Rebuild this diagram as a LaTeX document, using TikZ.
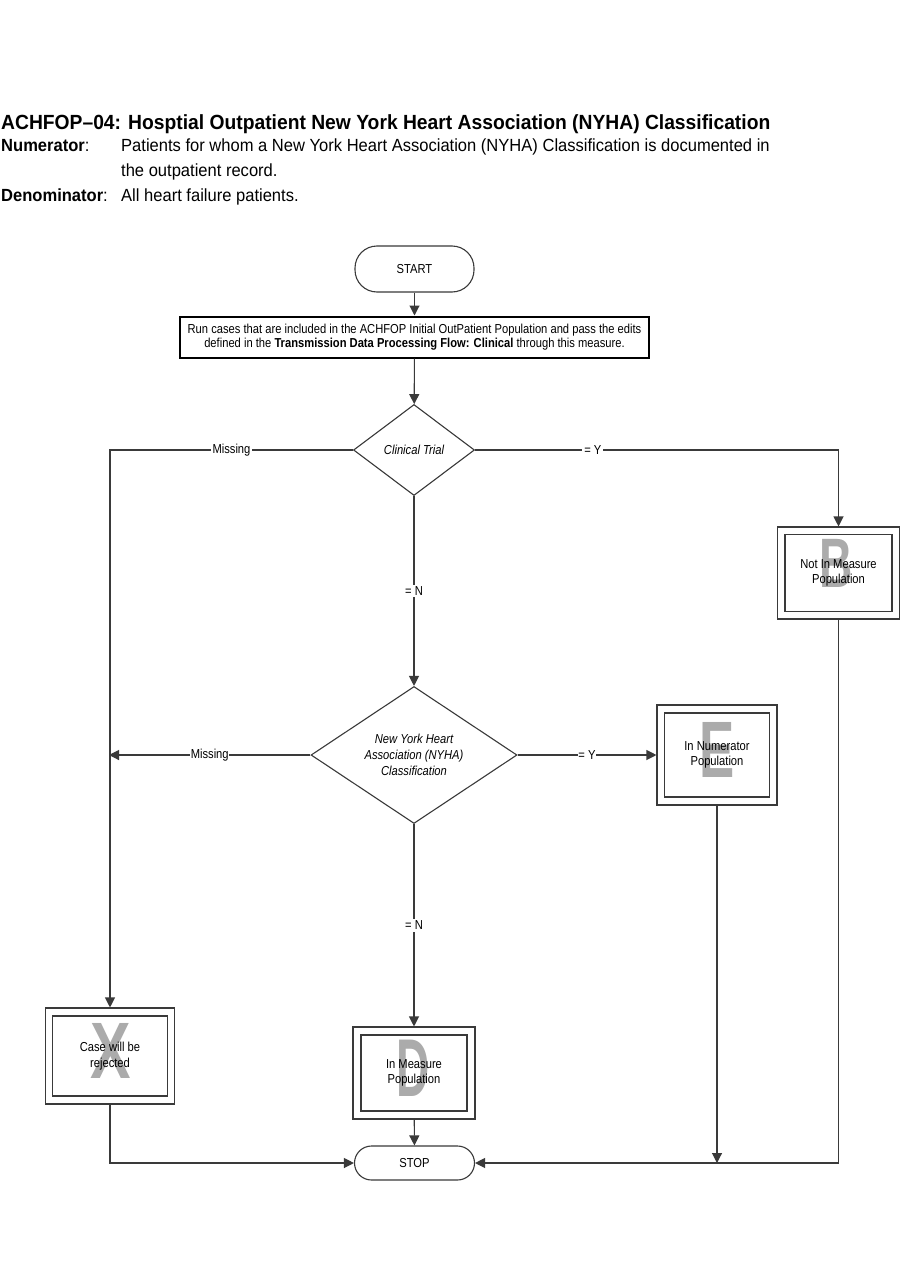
\documentclass[tikz,border=0pt]{standalone}
\usepackage{fontspec}
\setmainfont{Liberation Sans}[FakeStretch=0.86]
\newfontfamily\hdrfont{Liberation Sans}[FakeStretch=0.94]
\newfontfamily\letfont{Liberation Sans}[FakeStretch=0.66]
\usetikzlibrary{arrows.meta,shapes.geometric}
\definecolor{linec}{HTML}{3A3A3A}
\definecolor{letterc}{HTML}{ABABAB}
\tikzset{
  every node/.style={font=\fontsize{13}{15}\selectfont},
  line/.style={draw=linec, line width=1.1pt},
  arr/.style={line, -{Triangle[length=10pt,width=10pt]}},
  term/.style={draw=linec, line width=1.1pt, rectangle, rounded corners=22pt, fill=white, inner sep=0pt},
  runbox/.style={draw=black, line width=2pt, fill=white, inner sep=0pt, align=center},
  decision/.style={draw=linec, line width=1.1pt, diamond, fill=white, inner sep=0pt, aspect=1},
  dectext/.style={font=\itshape\fontsize{13}{16}\selectfont, align=center},
  outerbox/.style={draw=linec, line width=1.1pt, fill=white, inner sep=0pt},
  innerbox/.style={draw=linec, line width=1.3pt, inner sep=0pt},
  bigletter/.style={text=letterc, inner sep=0pt},
  boxtext/.style={align=center, inner sep=0pt, font=\fontsize{13}{15.5}\selectfont},
  lbl/.style={fill=white, inner sep=2pt, font=\fontsize{13}{15}\selectfont},
  hdr/.style={anchor=base west, inner sep=0pt, font=\hdrfont\fontsize{17.6}{20}\selectfont},
}
\begin{document}
\begin{tikzpicture}[x=1pt,y=-1pt]
\useasboundingbox[fill=white] (0,0) rectangle (901,1287);

% header
\node[anchor=base west, inner sep=0pt, font=\hdrfont\bfseries\fontsize{20.5}{24}\selectfont] (title) at (1,130) {ACHFOP–04: Hosptial Outpatient New York Heart Association (NYHA) Classification};
\node[hdr] (numl) at (1,151) {\textbf{Numerator}:};
\node[hdr] (numt) at (121,151) {Patients for whom a New York Heart Association (NYHA) Classification is documented in};
\node[hdr] (numt2) at (121,176) {the outpatient record.};
\node[hdr] (denl) at (1,201) {\textbf{Denominator}:};
\node[hdr] (dent) at (121,201) {All heart failure patients.};

% start / run
\node[term, minimum width=119pt, minimum height=46pt] (start) at (414.5,269) {START};
\node[runbox, minimum width=469pt, minimum height=41pt] (run) at (414.5,337)
  {Run cases that are included in the ACHFOP Initial OutPatient Population and pass the edits\\[-1pt]
   defined in the \textbf{Transmission Data Processing Flow: Clinical} through this measure.};

% decisions
\node[decision, minimum width=121pt, minimum height=91pt] (ct) at (414,450) {};
\node[dectext] (ctt) at (ct) {Clinical Trial};
\node[decision, minimum width=206pt, minimum height=137pt] (ny) at (414,755) {};
\node[dectext] (nyt) at (ny) {New York Heart\\Association (NYHA)\\Classification};

% B box
\node[outerbox, minimum width=122pt, minimum height=92pt] (bo) at (838.5,573) {};
\node[innerbox, minimum width=107pt, minimum height=77pt] (bi) at (bo) {};
\node[bigletter, font=\letfont\bfseries\fontsize{70}{70}\selectfont] (bl) at (836,563) {B};
\node[boxtext] (bt) at (bo) {Not In Measure\\Population};

% E box
\node[outerbox, minimum width=120pt, minimum height=100pt] (eo) at (717,755) {};
\node[innerbox, minimum width=105pt, minimum height=84pt] (ei) at (eo) {};
\node[bigletter, font=\letfont\bfseries\fontsize{80}{80}\selectfont] (el) at (717,750) {E};
\node[boxtext] (et) at (eo) {In Numerator\\Population};

% X box
\node[outerbox, minimum width=129pt, minimum height=96pt] (xo) at (110,1056) {};
\node[innerbox, minimum width=115pt, minimum height=80pt] (xi) at (110,1056) {};
\node[bigletter, font=\letfont\bfseries\fontsize{80}{80}\selectfont] (xl) at (111,1051) {\scalebox{1.15}[1]{X}};
\node[boxtext] (xt) at (xo) {Case will be\\rejected};

% D box
\node[outerbox, minimum width=122pt, minimum height=92pt] (do) at (414,1073) {};
\node[innerbox, minimum width=106pt, minimum height=76pt] (di) at (do) {};
\node[bigletter, font=\letfont\bfseries\fontsize{82}{82}\selectfont] (dl) at (413,1068) {\scalebox{0.85}[1]{D}};
\node[boxtext] (dt) at (do) {In Measure\\Population};

% stop
\node[term, minimum width=120pt, minimum height=34pt, rounded corners=17pt] (stop) at (414.5,1163) {STOP};

\coordinate (mx) at (109,755);

% connectors
\draw[arr] (start) -- (run);
\draw[arr] (run) -- (ct);
\draw[arr] (ct.west) -| node[lbl, pos=0.25] {Missing} (xo.north);
\draw[arr] (ct.east) -| node[lbl, pos=0.162] {= Y} (bo.north);
\draw[arr] (ct.south) -- node[lbl] {= N} (ny.north);
\draw[arr] (ny.west) -- node[lbl, inner sep=0.5pt] {Missing} (mx);
\draw[arr] (ny.east) -- node[lbl, inner sep=0.5pt] {= Y} (eo.west);
\draw[arr] (ny.south) -- node[lbl] {= N} (do.north);
\draw[arr] (do) -- (stop);
\draw[arr] (xo.south) |- (stop.west);
\draw[arr] (bo.south) |- (stop.east);
\draw[arr] (eo.south) -- (eo.south |- stop.east);
\end{tikzpicture}
\end{document}
